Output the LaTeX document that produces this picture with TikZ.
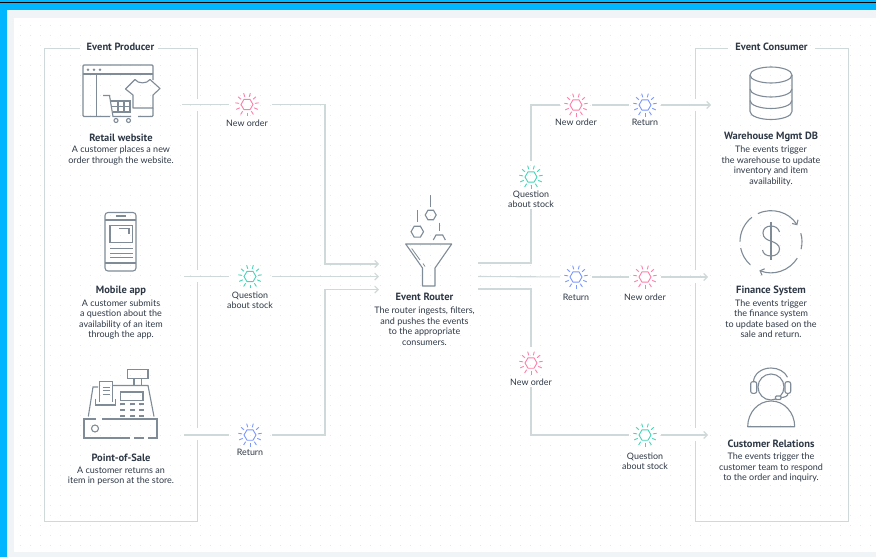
\documentclass[tikz,border=0pt]{standalone}
\usepackage{fontspec}
\usepackage{tikz}
\usetikzlibrary{arrows.meta,shapes.geometric,calc}
\setmainfont{Lato}
\newfontfamily\headfont[BoldFont={PT Sans Bold}]{PT Sans}

\definecolor{skyband}{HTML}{00B7FF}
\definecolor{paleband}{HTML}{F0F4F7}
\definecolor{griddot}{HTML}{E3E8EB}
\definecolor{linegray}{HTML}{D0D9DA}
\definecolor{icongray}{HTML}{7F8B97}
\definecolor{inkdark}{HTML}{2F3946}
\definecolor{evpink}{HTML}{FF7FA8}
\definecolor{evteal}{HTML}{45D6B8}
\definecolor{evblue}{HTML}{7C98FF}

\tikzset{
  flow/.style={draw=linegray,line width=1.1pt},
  boxline/.style={draw=linegray,line width=1pt},
  icon/.style={draw=icongray,line width=1.1pt},
  heading/.style={font=\headfont\bfseries\fontsize{10.5}{11}\selectfont,text=inkdark,inner sep=0pt},
  blurb/.style={font=\fontsize{9}{10.45}\selectfont,text=inkdark,align=center,inner sep=0pt,anchor=north,yshift=-1.5pt},
  tag/.style={font=\fontsize{8.9}{10.2}\selectfont,text=inkdark,align=center,inner sep=1pt},
  halo/.style={circle,minimum size=32pt,inner sep=0pt}
}

% event burst: name, position, colour
\newcommand{\evburst}[3]{
  \node (#1) at (#2) [halo] {};
  \node (#1hex) at (#1) [regular polygon,regular polygon sides=6,shape border rotate=0,
    minimum size=12pt,inner sep=0pt,draw=#3,line width=.9pt] {};
  \foreach \a in {0,...,10}
    \draw [draw=#3,line width=.9pt] ($(#1)+(90+\a*32.727:8)$) -- ($(#1)+(90+\a*32.727:11.8)$);
}

\begin{document}
\begin{tikzpicture}[x=1pt,y=-1pt,>={Straight Barb[length=3.5pt,width=7pt]}]
  \useasboundingbox (0,0) rectangle (876,557);

  \fill [skyband] (0,0) rectangle (876,557);
  \fill [black] (0,1.6) rectangle (876,2.8);
  \fill [paleband] (7,10) rectangle (876,557);
  \fill [white] (14,18) rectangle (876,551.5);
  \foreach \y in {25,35,...,545}
    \draw [griddot,line width=.8pt,dash pattern=on .8pt off 9.2pt] (20,\y) -- (876,\y);

  % frames
  \draw [boxline] (80,48) -- (44,48) -- (44,521) -- (197,521) -- (197,440);
  \draw [boxline] (197,428) -- (197,282);
  \draw [boxline] (197,270) -- (197,111);
  \draw [boxline] (197,99) -- (197,48) -- (158,48);
  \draw [boxline] (728,48) -- (695,48) -- (695,99);
  \draw [boxline] (695,111) -- (695,270);
  \draw [boxline] (695,283) -- (695,428);
  \draw [boxline] (695,441) -- (695,521) -- (848,521) -- (848,48) -- (815,48);
  \node (prodhead) at (120.5,47) [heading] {Event Producer};
  \node (conshead) at (771.5,47) [heading] {Event Consumer};

  % left column texts
  \node (shop) at (121,137.5) [heading] {Retail website};
  \node (shoptxt) at (121,144.5) [blurb] {A customer places a new\\order through the website.};
  \node (phone) at (121,291) [heading] {Mobile app};
  \node (phonetxt) at (121,298) [blurb] {A customer submits\\a question about the\\availability of an item\\through the app.};
  \node (till) at (121,458) [heading] {Point-of-Sale};
  \node (tilltxt) at (121,465) [blurb] {A customer returns an\\item in person at the store.};

  % middle and right column texts
  \node (router) at (424.5,297) [heading] {Event Router};
  \node (routertxt) at (424.5,305.5) [blurb] {The router ingests, filters,\\and pushes the events\\to the appropriate\\consumers.};
  \node (ware) at (771,137) [heading] {Warehouse Mgmt DB};
  \node (waretxt) at (771,144.5) [blurb] {The events trigger\\the warehouse to update\\inventory and item\\availability.};
  \node (fin) at (771,291) [heading] {Finance System};
  \node (fintxt) at (771,298) [blurb] {The events trigger\\the finance system\\to update based on the\\sale and return.};
  \node (care) at (771,444) [heading] {Customer Relations};
  \node (caretxt) at (771,451.5) [blurb] {The events trigger the\\customer team to respond\\to the order and inquiry.};

  % event bursts and their labels
  \evburst{evA}{247,104.5}{evpink}
  \evburst{evB}{250,276.5}{evteal}
  \evburst{evC}{250,435}{evblue}
  \evburst{evD}{576,105}{evpink}
  \evburst{evE}{645,105}{evblue}
  \evburst{evF}{531,177}{evteal}
  \evburst{evG}{576,277}{evblue}
  \evburst{evH}{645,277}{evpink}
  \evburst{evI}{531,363}{evpink}
  \evburst{evJ}{645,435}{evteal}

  \node (tagA) at (247,123) [tag] {New order};
  \node (tagB) at (250,300) [tag] {Question\\about stock};
  \node (tagC) at (250,452.5) [tag] {Return};
  \node (tagD) at (576,122.5) [tag] {New order};
  \node (tagE) at (645,122.5) [tag] {Return};
  \node (tagF) at (531,199) [tag] {Question\\about stock};
  \node (tagG) at (576,297.5) [tag] {Return};
  \node (tagH) at (645,297.5) [tag] {New order};
  \node (tagI) at (531,382.5) [tag] {New order};
  \node (tagJ) at (645,461) [tag] {Question\\about stock};

  % free ends of the connectors
  \coordinate (srcA) at (182,104.5);
  \coordinate (srcB) at (184,276.5);
  \coordinate (srcC) at (184,435);
  \coordinate (midA) at (325,264);
  \coordinate (midC) at (325,289.5);
  \coordinate (inA) at (379,264);
  \coordinate (inB) at (379,276.5);
  \coordinate (inC) at (379,289.5);
  \coordinate (outA) at (478,263);
  \coordinate (outB) at (478,276.5);
  \coordinate (outC) at (478,289);
  \coordinate (dstA) at (711,105);
  \coordinate (dstB) at (708,277);
  \coordinate (dstC) at (708,435);

  \draw [flow,shorten >=2pt] (srcA) -- (evA);
  \draw [flow,shorten >=5pt] (srcB) -- (evB);
  \draw [flow,shorten >=5pt] (srcC) -- (evC);
  \draw [flow,->,shorten <=9pt] (evA) -| (midA) -- (inA);
  \draw [flow,->,shorten <=6pt] (evB) -- (inB);
  \draw [flow,->,shorten <=6pt] (evC) -| (midC) -- (inC);

  \draw [flow] (outA) -| (tagF);
  \draw [flow] (evF) |- (evD);
  \draw [flow] (evD) -- (evE);
  \draw [flow,->] (evE) -- (dstA);
  \draw [flow] (outB) -- (evG);
  \draw [flow] (evG) -- (evH);
  \draw [flow,->] (evH) -- (dstB);
  \draw [flow] (outC) -| (evI);
  \draw [flow] (tagI) |- (evJ);
  \draw [flow,->] (evJ) -- (dstC);

  % shop icon
  \draw [icon,rounded corners=1pt] (153,80) -- (153,65) -- (83,65) -- (83,116.5) -- (110,116.5);
  \draw [icon,rounded corners=1pt] (138,116.5) -- (153,116.5) -- (153,108);
  \draw [icon] (83,74) -- (153,74);
  \draw [icon] (96.5,74) -- (96.5,116.5);
  \foreach \x in {88,94,100}
    \fill [icongray] (\x,69.7) circle (1.4);
  \draw [icon,line join=round] (135,79.5) .. controls (138,84) and (147,84) .. (150,79.5) -- (160,88.5) -- (153,95) -- (153,108) -- (133,108) -- (133,95) -- (125.5,89) -- cycle;
  \draw [icon] (103,95.5) -- (109.5,95.5) -- (113,116.5) -- (131,116.5);
  \draw [icon] (110.5,101) -- (130,101) -- (130,112) -- (112.5,112);
  \draw [icon] (118,101) -- (118,112);
  \draw [icon] (124,101) -- (124,112);
  \draw [icon] (111.5,106.5) -- (130,106.5);
  \draw [icon] (116,120.5) circle (2);
  \draw [icon] (128.5,120.5) circle (2);

  % phone icon
  \draw [icon,rounded corners=3pt] (105,212.5) rectangle (136,271);
  \draw [icon] (105,220) -- (136,220);
  \draw [icon] (105,263) -- (136,263);
  \draw [icon] (115.5,216) -- (126,216);
  \draw [icon] (110,225.5) rectangle (132.5,242.5);
  \draw [icon] (119,228.5) -- (129,228.5) -- (129,233.5);
  \draw [icon] (110,248.5) -- (132.5,248.5);
  \draw [icon] (110,253.5) -- (132.5,253.5);
  \draw [icon] (110,257.5) -- (132.5,257.5);

  % till icon
  \draw [icon] (96,419) -- (84,419) -- (84,438) -- (130,438);
  \draw [icon] (134,438) -- (144,438);
  \draw [icon] (148,438) -- (157,438) -- (157,419) -- (102,419);
  \draw [icon] (95,428.5) circle (3.5);
  \draw [icon] (88.3,416.5) -- (93,387) -- (98,387);
  \draw [icon] (113,385.5) -- (148,385.5) -- (154,416.5);
  \draw [icon] (127.5,369.5) rectangle (148,378.5);
  \draw [icon] (134,378.5) -- (134,385.5);
  \draw [icon] (141.5,378.5) -- (141.5,385.5);
  \draw [icon] (120.5,392) rectangle (143,400.5);
  \foreach \x in {120,129.5,139}
    \foreach \y in {403,409,414.5}
      \fill [icongray] (\x,\y) rectangle ++(5,2);
  \draw [icon] (99.5,402) -- (99.5,381.5) -- (112.5,381.5) -- (112.5,402);
  \draw [icon] (95.5,398.5) -- (95.5,405) -- (115.5,405) -- (115.5,398.5);
  \foreach \y in {387,390.5,394}
    \draw [icon,line width=.8pt] (102.5,\y) -- (109.5,\y);

  % funnel icon
  \draw [icon,line join=round] (405.7,244) -- (451.7,244) -- (435,268) -- (435,286) -- (422.5,286) -- (422.5,268) -- cycle;
  \draw [icon,line width=.8pt] (411.7,248.5) -- (420,260);
  \draw [icon,line width=.8pt] (423,263.5) -- (425,266.5);
  \node (hexA) at (430.7,215) [regular polygon,regular polygon sides=6,minimum size=11pt,inner sep=0pt,icon] {};
  \node (hexB) at (417.3,231.7) [regular polygon,regular polygon sides=6,minimum size=12.5pt,inner sep=0pt,icon] {};
  \draw [icon] (433.3,240) -- (436,235) -- (442.7,235) -- (445.3,240);
  \draw [icon] (430.7,195) -- (430.7,206.7);
  \draw [icon] (417.3,210) -- (417.3,221.7);
  \draw [icon] (439.3,222.7) -- (439.3,230.7);

  % database icon
  \draw [icon] (771,75) ellipse (21 and 8);
  \draw [icon] (750,75) -- (750,111.5) arc [start angle=180,end angle=0,x radius=21,y radius=8] -- (792,75);
  \draw [icon] (750,89) arc [start angle=180,end angle=0,x radius=21,y radius=8];
  \draw [icon] (750,100.5) arc [start angle=180,end angle=0,x radius=21,y radius=8];

  % dollar icon
  \draw [icon] (771,241.7) ++(180:31) arc [start angle=180,end angle=232,radius=31];
  \draw [icon,->] (771,241.7) ++(-115:31) arc [start angle=-115,end angle=-32,radius=31];
  \draw [icon] (771,241.7) ++(-16:31) arc [start angle=-16,end angle=14,radius=31];
  \draw [icon,->] (771,241.7) ++(32:31) arc [start angle=32,end angle=112,radius=31];
  \draw [icon] (771,241.7) ++(132:31) arc [start angle=132,end angle=168,radius=31];
  \draw [icon] (771,222) -- (771,260);
  \draw [icon] (779.5,232) .. controls (778.5,228) and (775,226) .. (771,226) .. controls (766,226) and (763,229) .. (763,233) .. controls (763,238) and (767,240) .. (771,241) .. controls (776,243) and (779.5,245) .. (779.5,249) .. controls (779.5,253) and (776,256) .. (771,256) .. controls (766,256) and (763,253.5) .. (762.5,250);

  % agent icon
  \draw [icon] (771,387) circle (13);
  \draw [icon] (753.5,382) arc [start angle=180,end angle=340,x radius=17.5,y radius=14];
  \draw [icon,rounded corners=2pt] (750.7,381.7) rectangle (756.7,393.3);
  \draw [icon,rounded corners=2pt] (785,381.7) rectangle (790.7,393.3);
  \draw [icon] (788,393.3) .. controls (788,396) and (785,397.5) .. (781,397.5);
  \draw [icon,rounded corners=1pt,fill=white] (775.5,396) rectangle (781,399.5);
  \draw [icon,line join=round] (747.7,426.7) arc [start angle=180,end angle=360,x radius=23.5,y radius=25.7] -- cycle;
\end{tikzpicture}
\end{document}
